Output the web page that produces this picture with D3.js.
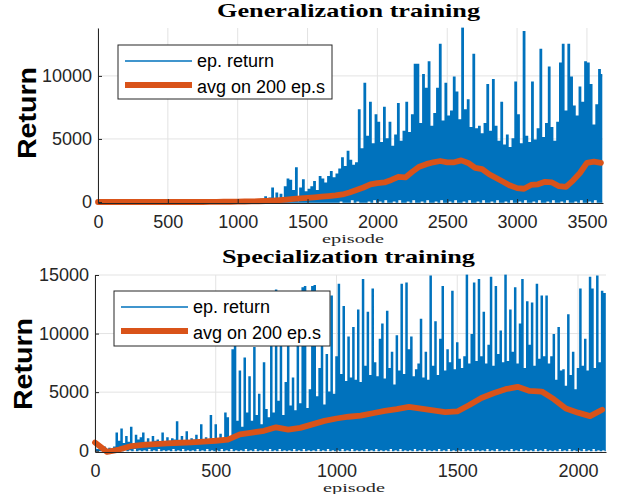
<!DOCTYPE html>
<html><head><meta charset="utf-8">
<script src="https://cdn.jsdelivr.net/npm/d3@7"></script>
<style>body{margin:0;background:#fff}svg{display:block}</style>
</head><body>
<svg id="c" width="624" height="494"></svg>
<script>
// ---------------- data ----------------
const genTitle = "Generalization training";
const specTitle = "Specialization training";
const legendLabels = ["ep. return", "avg on 200 ep.s"];
const xLabel = "episode";
const yLabel = "Return";

const genXTicks = [0, 500, 1000, 1500, 2000, 2500, 3000, 3500];
const genYTicks = [0, 5000, 10000];
const specXTicks = [0, 500, 1000, 1500, 2000];
const specYTicks = [0, 5000, 10000, 15000];

// episode spacing of the stored samples
const genReturnStep = 10, genAvgStep = 50;
const specReturnStep = 5, specAvgStep = 50;

// Generalization: episode return (every 10 episodes, 0..3610)
const genReturn = [
0,30,0,50,0,20,0,40,0,30,
0,60,0,20,0,40,0,30,0,50,
0,20,0,50,0,30,0,40,0,20,
0,40,0,30,0,60,0,20,0,40,
0,50,0,30,0,40,0,20,0,60,
0,30,0,50,0,20,0,40,0,30,
0,40,0,60,0,30,0,50,0,20,
0,50,0,30,0,70,0,40,0,60,
0,60,0,40,0,80,0,50,0,70,
0,80,0,60,0,100,0,70,0,90,
0,100,0,80,0,120,0,90,0,150,
0,120,0,180,0,100,0,200,0,150,
400,0,0,300,0,1100,0,0,700,0,
0,600,0,0,1200,0,1800,0,1700,0,
900,0,2700,0,0,1100,0,1750,0,800,
0,1000,0,1200,0,1600,0,900,0,2000,
0,1800,0,1500,0,2000,0,2400,0,1900,
0,2200,0,2600,100,3500,0,2800,0,4000,
0,3300,200,2900,0,3100,100,7300,0,4200,
0,9400,0,5200,100,7900,0,4600,200,6900,
0,6300,100,4700,0,7500,200,5000,0,6300,
0,4400,100,5300,0,7800,200,4800,0,5600,
0,7900,100,5500,0,6900,200,10900,0,10900,
0,6200,100,10100,0,9000,200,11100,0,6000,
0,7000,100,9000,0,12500,200,6400,0,9400,
0,6800,100,7200,0,9900,200,8700,0,6500,
0,13800,100,7300,0,8100,200,5900,0,11700,
0,5800,100,6000,0,5400,200,6200,0,9300,
0,5600,100,9700,0,6000,200,4800,0,7900,
0,4500,100,5300,0,4300,200,5000,0,9500,
0,6900,100,4600,0,13500,200,5200,0,4700,
0,9500,100,4900,0,5800,200,12100,0,5100,
0,6200,100,10700,0,5900,200,4800,0,6300,
0,11000,100,12500,0,7200,200,12500,0,9900,
0,7600,100,6800,0,9100,200,7900,0,11100,
0,11000,100,9300,0,6100,200,7700,0,10500,
0,10100
];
// Generalization: 200-episode average (every 50 episodes, 0..3600)
const genAvg = [
0,0,0,0,0,0,0,0,0,0,0,0,0,0,0,0,
10,10,20,20,30,40,50,60,
80,110,150,190,240,280,320,370,
420,470,520,600,750,950,1150,1400,
1500,1550,1750,2000,1950,2400,2800,3000,
3150,3250,3150,3150,3300,3100,2700,2600,
2200,1900,1600,1300,1100,1050,1350,1400,
1600,1550,1250,1200,1700,2300,3100,3200,
3100
];

// Specialization: episode return (every 5 episodes, 0..2115)
const specReturn = [
400,0,100,0,80,0,50,0,300,0,100,0,200,0,100,0,300,0,1500,0,
800,100,1850,0,600,200,1200,0,700,100,2000,0,500,200,1300,0,900,100,1100,0,
1500,100,700,0,1000,200,600,0,1200,100,800,0,900,200,500,0,1500,100,700,0,
1100,100,800,0,1000,200,900,0,2450,100,600,0,1200,200,800,0,1600,100,700,0,
1000,100,900,0,1300,200,700,0,2200,100,800,0,1100,200,900,0,3000,100,1000,0,
2200,100,900,0,1400,200,1000,0,3200,100,2800,0,900,200,8600,0,10000,100,2500,0,
6800,100,2000,0,7900,200,3200,0,6300,100,2500,0,8800,200,3000,0,4800,100,2200,0,
7500,100,3500,0,2800,200,9000,0,3200,100,13700,0,4200,200,9300,0,3000,100,5800,0,
9900,100,3800,0,6200,200,3400,0,9300,100,4000,0,13900,200,14000,0,3600,100,5200,0,
14000,100,14100,0,4600,200,7000,0,10500,100,3900,0,8200,200,5000,0,13200,100,4800,0,
8000,100,14200,0,6500,200,12300,0,5900,100,9700,0,6200,200,10500,0,6000,100,12000,0,
5800,100,14600,0,7200,200,11800,0,6400,100,13800,0,7500,200,6300,0,9500,100,10800,0,
6100,100,11900,0,7000,200,8400,0,5600,100,9800,0,6800,200,14200,0,6500,100,14300,0,
8600,100,9700,0,6300,200,6900,0,7400,100,11200,0,6200,200,8400,0,6000,100,14900,0,
7200,100,11000,0,6400,200,9500,0,14000,100,6800,0,8600,200,7500,0,13600,100,6900,0,
9200,100,7800,0,7000,200,8000,0,15000,100,7400,0,9900,200,14300,0,7600,100,14600,0,
8000,100,11800,0,7400,200,9000,0,14800,100,7200,0,14000,200,8200,0,10200,100,7500,0,
15000,100,7600,0,12000,200,8400,0,13900,100,7400,0,10800,200,14600,0,7000,100,12700,0,
9000,100,12600,0,7200,200,14200,0,7800,100,13200,0,8000,200,13200,0,7400,100,8000,0,
9900,100,6000,0,10500,200,6800,0,6900,100,5500,0,11600,200,6400,0,8400,100,5200,0,
7000,100,13800,0,7200,200,9500,0,6800,100,14800,0,13800,200,7000,0,14900,100,7500,0,
13600,100,13400,0
];
// Specialization: 200-episode average (every 50 episodes, 0..2100)
const specAvg = [
700,-100,100,400,500,560,620,680,720,780,
850,950,1400,1550,1700,2000,1800,1950,2250,2550,
2750,2900,3000,3200,3400,3550,3750,3600,3450,3300,
3350,3900,4500,4900,5250,5450,5100,5050,4400,3600,
3250,2950,3500
];

// ---------------- drawing ----------------
const BLUE = "#0072BD", ORANGE = "#D95319", AX = "#262626", GRID = "#e3e3e3";
const SANS = "'Liberation Sans', Arial, sans-serif";
const SERIF = "'Liberation Serif', 'Times New Roman', serif";
const svg = d3.select("#c");

function drawPanel(p) {
  const x = d3.scaleLinear().domain([0, p.xMax]).range([p.l, p.r]);
  const y = d3.scaleLinear().domain([p.yMin, p.yMax]).range([p.b, p.t]);
  const g = svg.append("g");

  // grid
  g.selectAll(null).data(p.xTicks).join("line")
    .attr("x1", d => x(d)).attr("x2", d => x(d)).attr("y1", p.t).attr("y2", p.b)
    .attr("stroke", GRID).attr("stroke-width", 1);
  g.selectAll(null).data(p.yTicks).join("line")
    .attr("x1", p.l).attr("x2", p.r).attr("y1", d => y(d)).attr("y2", d => y(d))
    .attr("stroke", GRID).attr("stroke-width", 1);

  const cid = "clip" + p.id;
  svg.append("clipPath").attr("id", cid).append("rect")
    .attr("x", p.l).attr("y", p.t - 0.5).attr("width", p.r - p.l).attr("height", p.b - p.t + 0.5);

  // dense episode-return trace (step rendering keeps the dense band solid)
  const retLine = d3.line().x((d, i) => x(i * p.retStep)).y(d => y(d)).curve(d3.curveStep);
  g.append("path").datum(p.ret).attr("d", retLine)
    .attr("fill", "none").attr("stroke", BLUE).attr("stroke-width", p.retW)
    .attr("stroke-linejoin", "miter").attr("clip-path", `url(#${cid})`);

  const avgLine = d3.line().x((d, i) => x(i * p.avgStep)).y(d => y(d));
  g.append("path").datum(p.avg).attr("d", avgLine)
    .attr("fill", "none").attr("stroke", ORANGE).attr("stroke-width", 5.8)
    .attr("stroke-linejoin", "round").attr("stroke-linecap", "round");

  // axes
  const xa = g.append("g").attr("transform", `translate(0,${p.b})`)
    .call(d3.axisBottom(x).tickValues(p.xTicks).tickSizeInner(-4).tickSizeOuter(0)
      .tickPadding(p.xPad).tickFormat(d3.format("d")));
  const ya = g.append("g").attr("transform", `translate(${p.l},0)`)
    .call(d3.axisLeft(y).tickValues(p.yTicks).tickSizeInner(-4).tickSizeOuter(0)
      .tickPadding(6).tickFormat(d3.format("d")));
  [xa, ya].forEach(a => {
    a.attr("font-family", SANS).attr("font-size", 18);
    a.select(".domain").attr("stroke", AX).attr("stroke-width", 1);
    a.selectAll(".tick line").attr("stroke", AX);
    a.selectAll(".tick text").attr("fill", AX);
  });

  // title
  svg.append("text").attr("x", p.titleX).attr("y", p.titleY)
    .attr("font-family", SERIF).attr("font-weight", "bold").attr("font-size", 19.5)
    .attr("textLength", p.titleLen).attr("lengthAdjust", "spacingAndGlyphs")
    .attr("fill", "#000").text(p.title);
  // x label
  svg.append("text").attr("x", p.xlabX).attr("y", p.xlabY)
    .attr("font-family", SERIF).attr("font-size", 11.5)
    .attr("textLength", 62).attr("lengthAdjust", "spacingAndGlyphs")
    .attr("fill", AX).text(xLabel);
  // y label
  svg.append("text").attr("transform", `translate(${p.ylabX},${p.ylabY}) rotate(-90)`)
    .attr("font-family", SANS).attr("font-weight", "bold").attr("font-size", 26)
    .attr("textLength", 92).attr("lengthAdjust", "spacingAndGlyphs")
    .attr("fill", "#000").text(yLabel);

  // legend
  const L = p.leg;
  const lg = svg.append("g");
  lg.append("rect").attr("x", L.x).attr("y", L.y).attr("width", L.w).attr("height", L.h)
    .attr("fill", "#fff").attr("stroke", AX).attr("stroke-width", 1);
  lg.append("line").attr("x1", L.x + 7).attr("x2", L.x + 74).attr("y1", L.y + 16).attr("y2", L.y + 16)
    .attr("stroke", BLUE).attr("stroke-width", 1.3);
  lg.append("line").attr("x1", L.x + 7).attr("x2", L.x + 74).attr("y1", L.y + 40).attr("y2", L.y + 40)
    .attr("stroke", ORANGE).attr("stroke-width", 6);
  lg.selectAll("text.lt").data(legendLabels).join("text").attr("class", "lt")
    .attr("x", L.x + 79).attr("y", (d, i) => L.y + 22 + i * 25.5)
    .attr("font-family", SANS).attr("font-size", 18).attr("fill", "#000").text(d => d);
}

drawPanel({
  id: "g", l: 98, r: 603, t: 28, b: 203, xMax: 3615, yMin: -80, yMax: 13800,
  xTicks: genXTicks, yTicks: genYTicks, xPad: 12.5,
  ret: genReturn, retStep: genReturnStep, retW: 1.4,
  avg: genAvg, avgStep: genAvgStep,
  title: genTitle, titleX: 217, titleY: 17, titleLen: 263,
  xlabX: 322, xlabY: 242.5, ylabX: 36, ylabY: 159,
  leg: {x: 118, y: 45, w: 214, h: 54}
});
drawPanel({
  id: "s", l: 95, r: 606, t: 275, b: 452, xMax: 2116, yMin: -110, yMax: 15000,
  xTicks: specXTicks, yTicks: specYTicks, xPad: 12.5,
  ret: specReturn, retStep: specReturnStep, retW: 1.3,
  avg: specAvg, avgStep: specAvgStep,
  title: specTitle, titleX: 222, titleY: 263, titleLen: 253,
  xlabX: 323, xlabY: 492, ylabX: 32, ylabY: 410,
  leg: {x: 114, y: 291, w: 216, h: 55}
});
</script>
</body></html>
